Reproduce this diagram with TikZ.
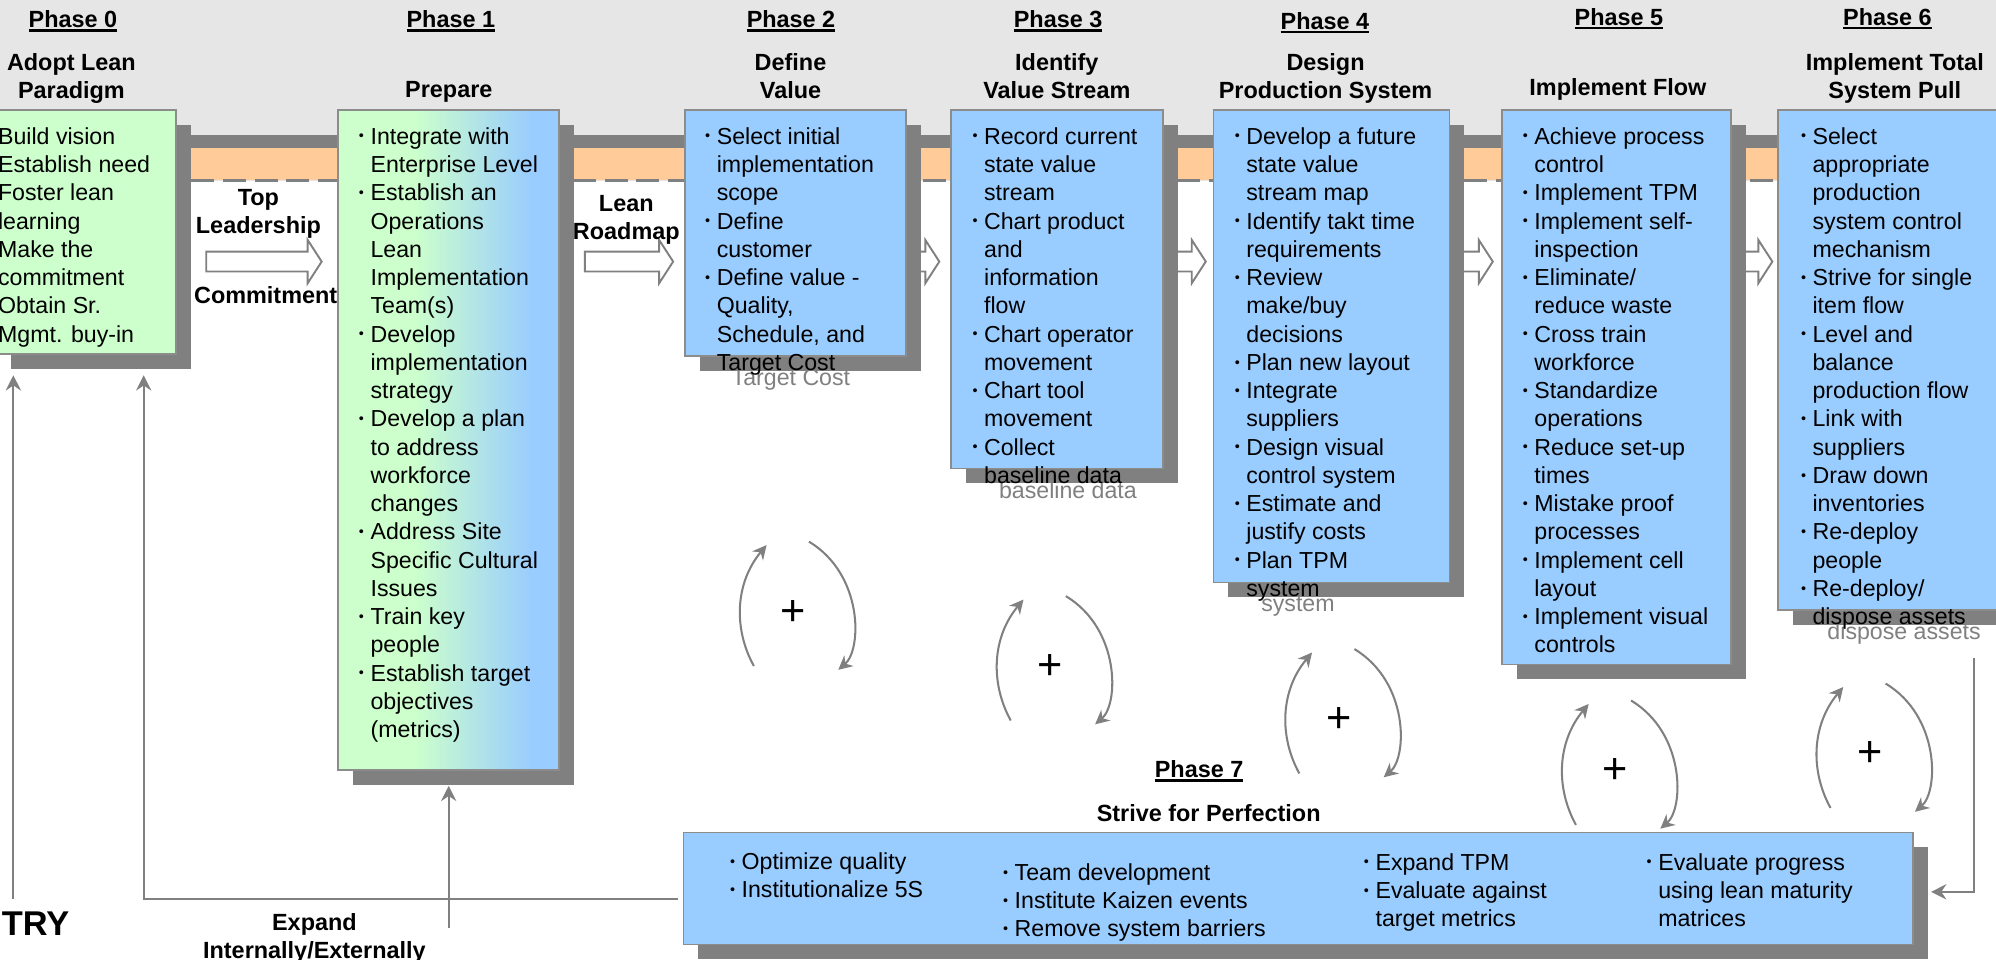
\documentclass[tikz,border=0pt]{standalone}
\usepackage{fontspec}
\setmainfont{Liberation Sans}
\usetikzlibrary{calc,arrows.meta,fit}
\definecolor{bgray}{RGB}{230,230,230}
\definecolor{shd}{RGB}{128,128,128}
\definecolor{orng}{RGB}{255,204,153}
\definecolor{blu}{RGB}{153,204,255}
\definecolor{grn}{RGB}{204,255,204}
\definecolor{brd}{RGB}{140,140,140}
\pgfdeclarelayer{bglayer}
\pgfdeclarelayer{behind}
\pgfdeclarelayer{shadow}
\pgfsetlayers{bglayer,behind,shadow,main}
\pgfdeclarehorizontalshading{gbshade}{100bp}{color(0bp)=(grn); color(42.5bp)=(grn); color(69bp)=(blu); color(100bp)=(blu)}
\newcommand\bl{\makebox[5.15pt][l]{\hspace{0.6pt}\raisebox{0.14em}{\scalebox{0.62}{\textbullet}}}}
\newcommand\ind{\hspace*{5.15pt}}
\newcommand\fs{\rule{0pt}{9.1pt}}
\newcommand\hs{\rule{0pt}{9.2pt}}
\newcommand\phul[1]{\setbox0\hbox{#1}\rlap{\rule[-1.7pt]{\wd0}{1pt}}\box0}
\newcommand\blockarrow[2]{\draw[blockarr] ($(#1)+(0,-7.8)$) -- ($(#2)+(-11,-7.8)$) -- ($(#2)+(-11,-17)$) -- (#2) -- ($(#2)+(-11,17)$) -- ($(#2)+(-11,7.8)$) -- ($(#1)+(0,7.8)$) -- cycle;}
\newcommand\loopy[1]{%
  \draw[looparr] ($(#1)+(-31,42)$) .. controls ($(#1)+(-47,13)$) and ($(#1)+(-46,-23)$) .. ($(#1)+(-21,-53)$);
  \draw[looparr] ($(#1)+(12.3,-55.7)$) .. controls ($(#1)+(55,-30)$) and ($(#1)+(54,29)$) .. ($(#1)+(35.3,45)$);}
\begin{document}
\begin{tikzpicture}[x=0.5pt,y=-0.5pt,
  every node/.style={inner sep=0pt,outer sep=0pt},
  txt/.style={font=\fontsize{9.1}{11.1}\selectfont,align=left,anchor=north west},
  ghosttxt/.style={txt,text=shd},
  hd/.style={font=\fontsize{9.2}{11.1}\selectfont\bfseries,anchor=base},
  ttl/.style={font=\fontsize{9.2}{11.1}\selectfont\bfseries,align=center,anchor=north},
  box/.style={draw=brd,line width=0.7pt},
  blockarr/.style={draw=shd,fill=white,line width=0.75pt},
  conn/.style={draw=shd,line width=0.8pt,-{Stealth[length=6pt,width=6pt,inset=2pt]}},
  looparr/.style={draw=shd,line width=0.8pt,-{Stealth[length=5.5pt,width=5.5pt,inset=1.8pt]}},
  plussign/.style={font=\fontsize{17}{17}\selectfont}]
\useasboundingbox (0,0) rectangle (1568,754.1);

% background band
\begin{pgfonlayer}{bglayer}
  \fill[white] (0,0) rectangle (1568,754.1);
  \fill[bgray] (0,0) rectangle (1568,142);
  \fill[shd] (0,106) rectangle (1568,116);
  \fill[orng] (0,116) rectangle (1568,141.5);
  \draw[shd,line width=1pt,dash pattern=on 9pt off 3.5pt] (0,142) -- (1568,142);
\end{pgfonlayer}

% phase boxes
\node[box,fill=grn,fit={(-3,86.4) (138.5,278.3)}] (p0) {};
\node[box,shade,shading=gbshade,fit={(265.5,86.4) (439.4,605)}] (p1) {};
\node[box,fill=blu,fit={(538,86.4) (711.6,279.7)}] (p2) {};
\node[box,fill=blu,fit={(747.3,86.4) (913.9,368)}] (p3) {};
\node[box,fill=blu,fit={(953.2,86.4) (1138.7,457.6)}] (p4) {};
\node[box,fill=blu,fit={(1179.7,86.4) (1360,522)}] (p5) {};
\node[box,fill=blu,fit={(1397,86.4) (1575,479)}] (p6) {};
\node[box,fill=blu,fit={(537,654) (1502.5,742)}] (p7) {};

\begin{pgfonlayer}{shadow}
  \foreach \n in {p0,p1,p2,p3,p4,p5,p6,p7}
    \fill[shd] ($(\n.south west)+(11.7,11.7)$) rectangle ($(\n.north east)+(11.7,11.7)$);
\end{pgfonlayer}

% block arrows between phases
\coordinate (row) at (0,205.5);
\coordinate (a01s) at (162,205.5);
\coordinate (a01t) at ($(p1.west|-row)+(-12.8,0)$);
\coordinate (a12s) at (459.4,205.5);
\coordinate (a12t) at ($(p2.west|-row)+(-9.2,0)$);
\coordinate (a23s) at ($(p2.east|-row)+(-20,0)$);
\coordinate (a23t) at ($(p3.west|-row)+(-9.4,0)$);
\coordinate (a34s) at ($(p3.east|-row)+(-20,0)$);
\coordinate (a34t) at ($(p4.west|-row)+(-6,0)$);
\coordinate (a45s) at ($(p4.east|-row)+(-20,0)$);
\coordinate (a45t) at ($(p5.west|-row)+(-7,0)$);
\coordinate (a56s) at ($(p5.east|-row)+(-20,0)$);
\coordinate (a56t) at ($(p6.west|-row)+(-4.7,0)$);
\begin{pgfonlayer}{behind}
  \blockarrow{a01s}{a01t}
  \blockarrow{a12s}{a12t}
  \blockarrow{a23s}{a23t}
  \blockarrow{a34s}{a34t}
  \blockarrow{a45s}{a45t}
  \blockarrow{a56s}{a56t}
  % text shadows that show below the box shadows
  \node[ghosttxt] (g2) at (564.5,284.4) {\fs\ind Target Cost};
  \node[ghosttxt] (g3) at (774.5,373.2) {\fs\ind baseline data};
  \node[ghosttxt] (g4) at (980.5,462) {\fs\ind system};
  \node[ghosttxt] (g6) at (1425.3,484.2) {\fs\ind dispose assets};
\end{pgfonlayer}

% box texts
\node[txt] (t0) at (-1.5,95.1) {\fs Build vision\\Establish need\\Foster lean\\learning\\Make the\\commitment\\Obtain Sr.\\Mgmt. buy-in};
\node[txt] (t1) at (280.8,95.1) {\fs\bl Integrate with\\\ind Enterprise Level\\\bl Establish an\\\ind Operations\\\ind Lean\\\ind Implementation\\\ind Team(s)\\\bl Develop\\\ind implementation\\\ind strategy\\\bl Develop a plan\\\ind to address\\\ind workforce\\\ind changes\\\bl Address Site\\\ind Specific Cultural\\\ind Issues\\\bl Train key\\\ind people\\\bl Establish target\\\ind objectives\\\ind (metrics)};
\node[txt] (t2) at (552.8,95.1) {\fs\bl Select initial\\\ind implementation\\\ind scope\\\bl Define\\\ind customer\\\bl Define value -\\\ind Quality,\\\ind Schedule, and\\\ind Target Cost};
\node[txt] (t3) at (762.8,95.1) {\fs\bl Record current\\\ind state value\\\ind stream\\\bl Chart product\\\ind and\\\ind information\\\ind flow\\\bl Chart operator\\\ind movement\\\bl Chart tool\\\ind movement\\\bl Collect\\\ind baseline data};
\node[txt] (t4) at (968.8,95.1) {\fs\bl Develop a future\\\ind state value\\\ind stream map\\\bl Identify takt time\\\ind requirements\\\bl Review\\\ind make/buy\\\ind decisions\\\bl Plan new layout\\\bl Integrate\\\ind suppliers\\\bl Design visual\\\ind control system\\\bl Estimate and\\\ind justify costs\\\bl Plan TPM\\\ind system};
\node[txt] (t5) at (1195.1,95.1) {\fs\bl Achieve process\\\ind control\\\bl Implement TPM\\\bl Implement self-\\\ind inspection\\\bl Eliminate/\\\ind reduce waste\\\bl Cross train\\\ind workforce\\\bl Standardize\\\ind operations\\\bl Reduce set-up\\\ind times\\\bl Mistake proof\\\ind processes\\\bl Implement cell\\\ind layout\\\bl Implement visual\\\ind controls};
\node[txt] (t6) at (1413.6,95.1) {\fs\bl Select\\\ind appropriate\\\ind production\\\ind system control\\\ind mechanism\\\bl Strive for single\\\ind item flow\\\bl Level and\\\ind balance\\\ind production flow\\\bl Link with\\\ind suppliers\\\bl Draw down\\\ind inventories\\\bl Re-deploy\\\ind people\\\bl Re-deploy/\\\ind dispose assets};
\node[txt] (t7a) at (572.3,664.8) {\fs\bl Optimize quality\\\bl Institutionalize 5S};
\node[txt] (t7b) at (786.8,673.3) {\fs\bl Team development\\\bl Institute Kaizen events\\\bl Remove system barriers};
\node[txt] (t7c) at (1070.3,665.3) {\fs\bl Expand TPM\\\bl Evaluate against\\\ind target metrics};
\node[txt] (t7d) at (1292.4,665.3) {\fs\bl Evaluate progress\\\ind using lean maturity\\\ind matrices};

% headings
\node[hd] (h0) at (57.3,21.5) {\phul{Phase 0}};
\node[hd] (h1) at (354.2,21.5) {\phul{Phase 1}};
\node[hd] (h2) at (621.4,21.5) {\phul{Phase 2}};
\node[hd] (h3) at (831.2,21.5) {\phul{Phase 3}};
\node[hd] (h4) at (1040.8,22.8) {\phul{Phase 4}};
\node[hd] (h5) at (1271.8,19.7) {\phul{Phase 5}};
\node[hd] (h6) at (1482.7,19.7) {\phul{Phase 6}};
\node[hd] (h7) at (942,610.6) {\phul{Phase 7}};
\node[ttl] (n0) at (56.1,36.6) {\hs Adopt Lean\\Paradigm};
\node[hd] (n1) at (352.6,76.8) {Prepare};
\node[ttl] (n2) at (621,36.6) {\hs Define\\Value};
\node[ttl] (n3) at (830.2,36.6) {\hs Identify\\Value Stream};
\node[ttl] (n4) at (1041.3,36.6) {\hs Design\\Production System};
\node[hd] (n5) at (1271,75.2) {Implement Flow};
\node[ttl] (n6) at (1488.5,36.6) {\hs Implement Total\\System Pull};
\node[hd] (n7) at (949.5,645.4) {Strive for Perfection};

% arrow labels
\node[ttl] (lTop) at (203,142.7) {\hs Top\\Leadership};
\node[hd] (lCom) at (208.7,238.3) {Commitment};
\node[ttl] (lLean) at (492,147.4) {\hs Lean\\Roadmap};
\node[ttl] (lExp) at (247,712.2) {\hs Expand\\Internally/Externally};
\node[font=\fontsize{13.5}{14}\selectfont\bfseries,anchor=base west] (entry) at (1.5,734.5) {TRY};

% improvement loops
\node[plussign] (pl1) at (623.2,481.2) {+};
\node[plussign] (pl2) at (825,524) {+};
\node[plussign] (pl3) at (1051.7,565.6) {+};
\node[plussign] (pl4) at (1269,606) {+};
\node[plussign] (pl5) at (1469,592.7) {+};
\loopy{pl1}
\loopy{pl2}
\loopy{pl3}
\loopy{pl4}
\loopy{pl5}

% feedback connectors
\coordinate (fa) at (10.5,706);
\draw[conn] (fa) -- ($(fa|-p0.south)+(0,16.5)$);
\draw[conn] ($(p7.west)+(-4,8)$) -| ($(p0.south east)+(-25.6,16.5)$);
\coordinate (fc) at (352.5,729);
\draw[conn] (fc) -- ($(fc|-p1.south)+(0,12.3)$);
\coordinate (fd) at (1551,517);
\draw[conn] (fd) |- ($(p7.east)+(14.5,2.6)$);
\end{tikzpicture}
\end{document}
